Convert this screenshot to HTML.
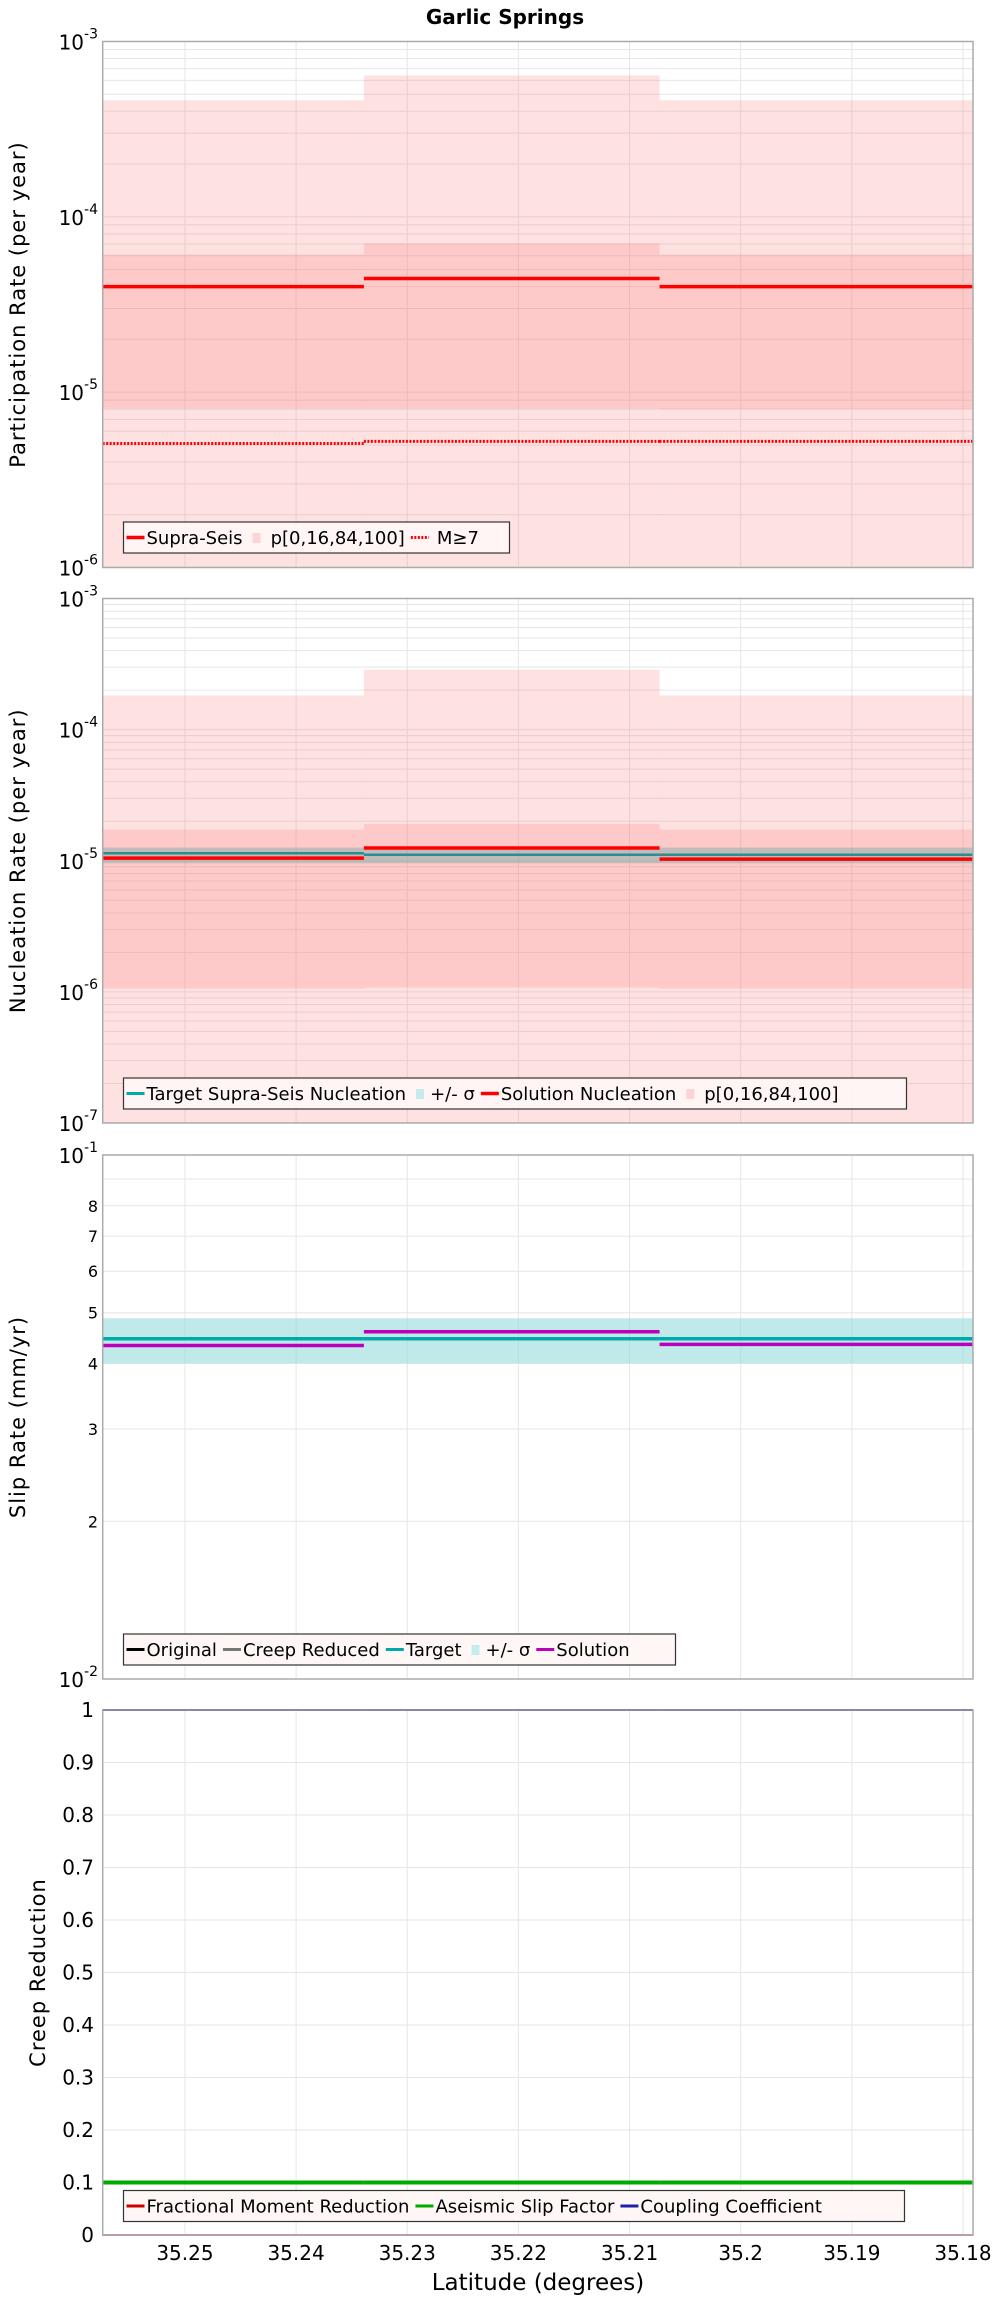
<!DOCTYPE html>
<html><head><meta charset="utf-8"><style>
html,body{margin:0;padding:0;background:#fff;}
svg{display:block;font-family:"DejaVu Sans","Liberation Sans",sans-serif;}
</style></head><body>
<svg id="chart" width="1000" height="2300" viewBox="0 0 1000 2300" xmlns="http://www.w3.org/2000/svg">
<text x="505" y="24" text-anchor="middle" font-weight="bold" font-size="20">Garlic Springs</text>
</svg>
<script>
// shared x data
const segEdges = [35.2574, 35.2339, 35.2073, 35.1791];
const xTicks = [35.25, 35.24, 35.23, 35.22, 35.21, 35.2, 35.19, 35.18];
const xTickLabels = ["35.25","35.24","35.23","35.22","35.21","35.2","35.19","35.18"];
// participation panel
const partP0 = [1e-6, 1e-6, 1e-6];
const partP100 = [4.62e-4, 6.4e-4, 4.62e-4];
const partP16 = [8.07e-6, 8.07e-6, 8.0e-6];
const partP84 = [6.1e-5, 7.06e-5, 6.1e-5];
const partSupra = [4.0e-5, 4.45e-5, 4.0e-5];
const partM7 = [5.1e-6, 5.24e-6, 5.24e-6];
// nucleation panel
const nucP0 = [1e-7, 1e-7, 1e-7];
const nucP100 = [1.82e-4, 2.86e-4, 1.82e-4];
const nucP16 = [1.06e-6, 1.08e-6, 1.06e-6];
const nucP84 = [1.73e-5, 1.91e-5, 1.73e-5];
const nucSigLo = [9.57e-6, 9.57e-6, 9.57e-6];
const nucSigHi = [1.26e-5, 1.26e-5, 1.26e-5];
const nucTarget = [1.14e-5, 1.11e-5, 1.11e-5];
const nucSolution = [1.047e-5, 1.25e-5, 1.03e-5];
// slip panel (axis values)
const slipSigLo = [0.04005, 0.04005, 0.04005];
const slipSigHi = [0.0488, 0.0488, 0.0488];
const slipTarget = [0.0446, 0.0446, 0.0446];
const slipSolution = [0.0433, 0.046, 0.0435];
const slipMinorTicks = [0.02,0.03,0.04,0.05,0.06,0.07,0.08];
const slipMinorLabels = ["2","3","4","5","6","7","8"];
// creep panel
const creepFMR = [0, 0, 0];
const creepASF = [0.1, 0.1, 0.1];
const creepCoupling = [1, 1, 1];
const creepTicks = [0,0.1,0.2,0.3,0.4,0.5,0.6,0.7,0.8,0.9,1];
const creepTickLabels = ["0","0.1","0.2","0.3","0.4","0.5","0.6","0.7","0.8","0.9","1"];

const svg = document.getElementById('chart');
const NS = 'http://www.w3.org/2000/svg';
const X0 = 102.7, X1 = 973;
function xs(v){ return X0 + (segEdges[0]-v)/(segEdges[0]-segEdges[3])*(X1-X0); }
function mk(tag, attrs, parent){
  const e = document.createElementNS(NS, tag);
  for (const k in attrs) e.setAttribute(k, attrs[k]);
  (parent||svg).appendChild(e); return e;
}
function logScale(top,bot,lo,hi){ return v => bot - (Math.log10(v)-Math.log10(lo))/(Math.log10(hi)-Math.log10(lo))*(bot-top); }
function linScale(top,bot,lo,hi){ return v => bot - (v-lo)/(hi-lo)*(bot-top); }

function frame(name, top, bot, ys, logLo, logHi, linTicks){
  const g = mk('g', {});
  
  
  xTicks.forEach(t => {
    const l = mk('line', {x1:xs(t), x2:xs(t), y1:top, y2:bot, stroke:'#e6e6e6', 'stroke-width':1}, g);
    
    
  });
  if (logLo !== null) {
    for (let d = logLo; d < logHi; d++) {
      for (let m = 1; m <= 9; m++) {
        const v = m * Math.pow(10, d);
        const y = ys(v);
        const l = mk('line', {x1:X0, x2:X1, y1:y, y2:y, stroke:'#e6e6e6', 'stroke-width':1}, g);
        
        
      }
    }
  } else {
    linTicks.forEach(v => {
      const l = mk('line', {x1:X0, x2:X1, y1:ys(v), y2:ys(v), stroke:'#e6e6e6', 'stroke-width':1}, g);
      
      
    });
  }
  return g;
}
function border(top, bot){
  const r = mk('rect', {x:X0, y:top, width:X1-X0, height:bot-top, fill:'none', stroke:'#ababab', 'stroke-width':1.5});
  
  
}
function bands(g, lo, hi, ys, fill, name){
  for (let i = 0; i < 3; i++) {
    const y1 = ys(hi[i]), y2 = ys(lo[i]);
    const r = mk('rect', {x:xs(segEdges[i]), y:y1, width:xs(segEdges[i+1])-xs(segEdges[i]), height:y2-y1, fill:fill}, g);
    
    
  }
}
function steps(g, vals, ys, color, w, name, dash){
  for (let i = 0; i < 3; i++) {
    const y = ys(vals[i]);
    const a = {x1:xs(segEdges[i]), x2:xs(segEdges[i+1]), y1:y, y2:y, stroke:color, 'stroke-width':w};
    if (dash) a['stroke-dasharray'] = dash;
    const l = mk('line', a, g);
    
    
  }
}
function logLabels(lo, hi, ys){
  for (let d = lo; d <= hi; d++) {
    const y = ys(Math.pow(10, d));
    const t = mk('text', {x:98, y:y+8, 'text-anchor':'end', 'font-size':20});
    
    
    t.textContent = '10';
    const s = mk('tspan', {dy:-11, 'font-size':14}, t);
    s.textContent = String(d);
  }
}
function yTitle(text, x, cy){
  const t = mk('text', {x:x, y:cy, 'text-anchor':'middle', 'font-size':21, transform:`rotate(-90 ${x} ${cy})`, 'letter-spacing':'1'});
  
  
  t.textContent = text;
}
function legend(x, y, w, entries){
  const g = mk('g', {});
  
  
  mk('rect', {x:x, y:y, width:w, height:31, fill:'#fff6f6', 'fill-opacity':0.95, stroke:'#333', 'stroke-width':1.2}, g);
  let cx = x + 3;
  entries.forEach(e => {
    const eg = mk('g', {}, g);
    
    
    if (e.kind === 'box') mk('rect', {x:cx+4, y:y+11, width:8, height:10, fill:e.color}, eg);
    else {
      const a = {x1:cx, x2:cx+18, y1:y+15.5, y2:y+15.5, stroke:e.color, 'stroke-width':e.w||3};
      if (e.dash) a['stroke-dasharray'] = e.dash;
      mk('line', a, eg);
    }
    const tx = cx + (e.kind === 'box' ? 18 : 20) + (e.gap||0);
    const t = mk('text', {x:tx, y:y+22, 'font-size':18}, eg);
    t.textContent = e.label;
    cx = tx + t.getComputedTextLength() + 6;
  });
}

// ---------- Panel 1 ----------
(function(){
  const top = 41.5, bot = 567.5;
  const ys = logScale(top, bot, 1e-6, 1e-3);
  const g = frame('participation', top, bot, ys, -6, -3);
  bands(g, partP0, partP100, ys, 'rgba(250,120,120,0.22)', 'band-p0-p100');
  bands(g, partP16, partP84, ys, 'rgba(250,120,120,0.22)', 'band-p16-p84');
  steps(g, partM7, ys, '#ff0000', 3, 'line-m7', '2,1.5');
  steps(g, partSupra, ys, '#ff0000', 3.5, 'line-supra-seis');
  border(top, bot);
  logLabels(-6, -3, ys);
  yTitle('Participation Rate (per year)', 25, (top+bot)/2);
  legend(123.5, 522, 386, [
    {label:'Supra-Seis', color:'#ff0000', w:3.5},
    {label:'p[0,16,84,100]', color:'#fcd4d4', kind:'box', gap:4},
    {label:'M\u22657', color:'#ff0000', dash:'2,1.5', gap:6}
  ]);
})();

// ---------- Panel 2 ----------
(function(){
  const top = 598.5, bot = 1123;
  const ys = logScale(top, bot, 1e-7, 1e-3);
  const g = frame('nucleation', top, bot, ys, -7, -3);
  bands(g, nucP0, nucP100, ys, 'rgba(250,120,120,0.22)', 'band-p0-p100');
  bands(g, nucP16, nucP84, ys, 'rgba(250,120,120,0.22)', 'band-p16-p84');
  bands(g, nucSigLo, nucSigHi, ys, 'rgba(120,170,170,0.45)', 'band-sigma');
  steps(g, nucTarget, ys, '#2a8f8f', 2.5, 'line-target-nucleation');
  steps(g, nucSolution, ys, '#ff0000', 3.5, 'line-solution-nucleation');
  border(top, bot);
  logLabels(-7, -3, ys);
  yTitle('Nucleation Rate (per year)', 25, (top+bot)/2);
  legend(123.5, 1078, 783, [
    {label:'Target Supra-Seis Nucleation', color:'#00aaaa', w:3},
    {label:'+/- \u03c3', color:'#c4ecec', kind:'box'},
    {label:'Solution Nucleation', color:'#ff0000', w:3.5},
    {label:'p[0,16,84,100]', color:'#fcd4d4', kind:'box', gap:4}
  ]);
})();

// ---------- Panel 3 ----------
(function(){
  const top = 1155, bot = 1679;
  const ys = logScale(top, bot, 0.01, 0.1);
  const g = frame('slip-rate', top, bot, ys, -2, -1);
  bands(g, slipSigLo, slipSigHi, ys, 'rgba(140,215,215,0.55)', 'band-sigma');
  steps(g, slipTarget, ys, '#00aaaa', 3.5, 'line-target-slip');
  steps(g, slipSolution, ys, '#bb00bb', 3.5, 'line-solution-slip');
  border(top, bot);
  logLabels(-2, -1, ys);
  slipMinorTicks.forEach((v, i) => {
    const t = mk('text', {x:98, y:ys(v)+6, 'text-anchor':'end', 'font-size':16});
    
    
    t.textContent = slipMinorLabels[i];
  });
  yTitle('Slip Rate (mm/yr)', 25, (top+bot)/2);
  legend(123.5, 1634, 552, [
    {label:'Original', color:'#000', w:3},
    {label:'Creep Reduced', color:'#777', w:3},
    {label:'Target', color:'#00aaaa', w:3},
    {label:'+/- \u03c3', color:'#c4ecec', kind:'box'},
    {label:'Solution', color:'#bb00bb', w:3}
  ]);
})();

// ---------- Panel 4 ----------
(function(){
  const top = 1710, bot = 2235;
  const ys = linScale(top, bot, 0, 1);
  const g = frame('creep-reduction', top, bot, ys, null, null, creepTicks);
  steps(g, creepFMR, ys, '#cc0000', 1.5, 'line-fractional-moment-reduction');
  steps(g, creepASF, ys, '#00aa00', 4, 'line-aseismic-slip-factor');
  steps(g, creepCoupling, ys, '#2020aa', 2, 'line-coupling-coefficient');
  border(top, bot);
  creepTicks.forEach((v, i) => {
    const t = mk('text', {x:94, y:ys(v)+7, 'text-anchor':'end', 'font-size':20});
    
    
    t.textContent = creepTickLabels[i];
  });
  xTicks.forEach((v, i) => {
    const t = mk('text', {x:xs(v), y:2260, 'text-anchor':'middle', 'font-size':20});
    
    
    t.textContent = xTickLabels[i];
  });
  const xt = mk('text', {x:538, y:2290, 'text-anchor':'middle', 'font-size':23});
  
  
  xt.textContent = 'Latitude (degrees)';
  yTitle('Creep Reduction', 45, (top+bot)/2);
  legend(123.5, 2190.5, 781, [
    {label:'Fractional Moment Reduction', color:'#cc0000', w:3},
    {label:'Aseismic Slip Factor', color:'#00aa00', w:3},
    {label:'Coupling Coefficient', color:'#2020aa', w:3}
  ]);
})();
</script>
</body></html>
